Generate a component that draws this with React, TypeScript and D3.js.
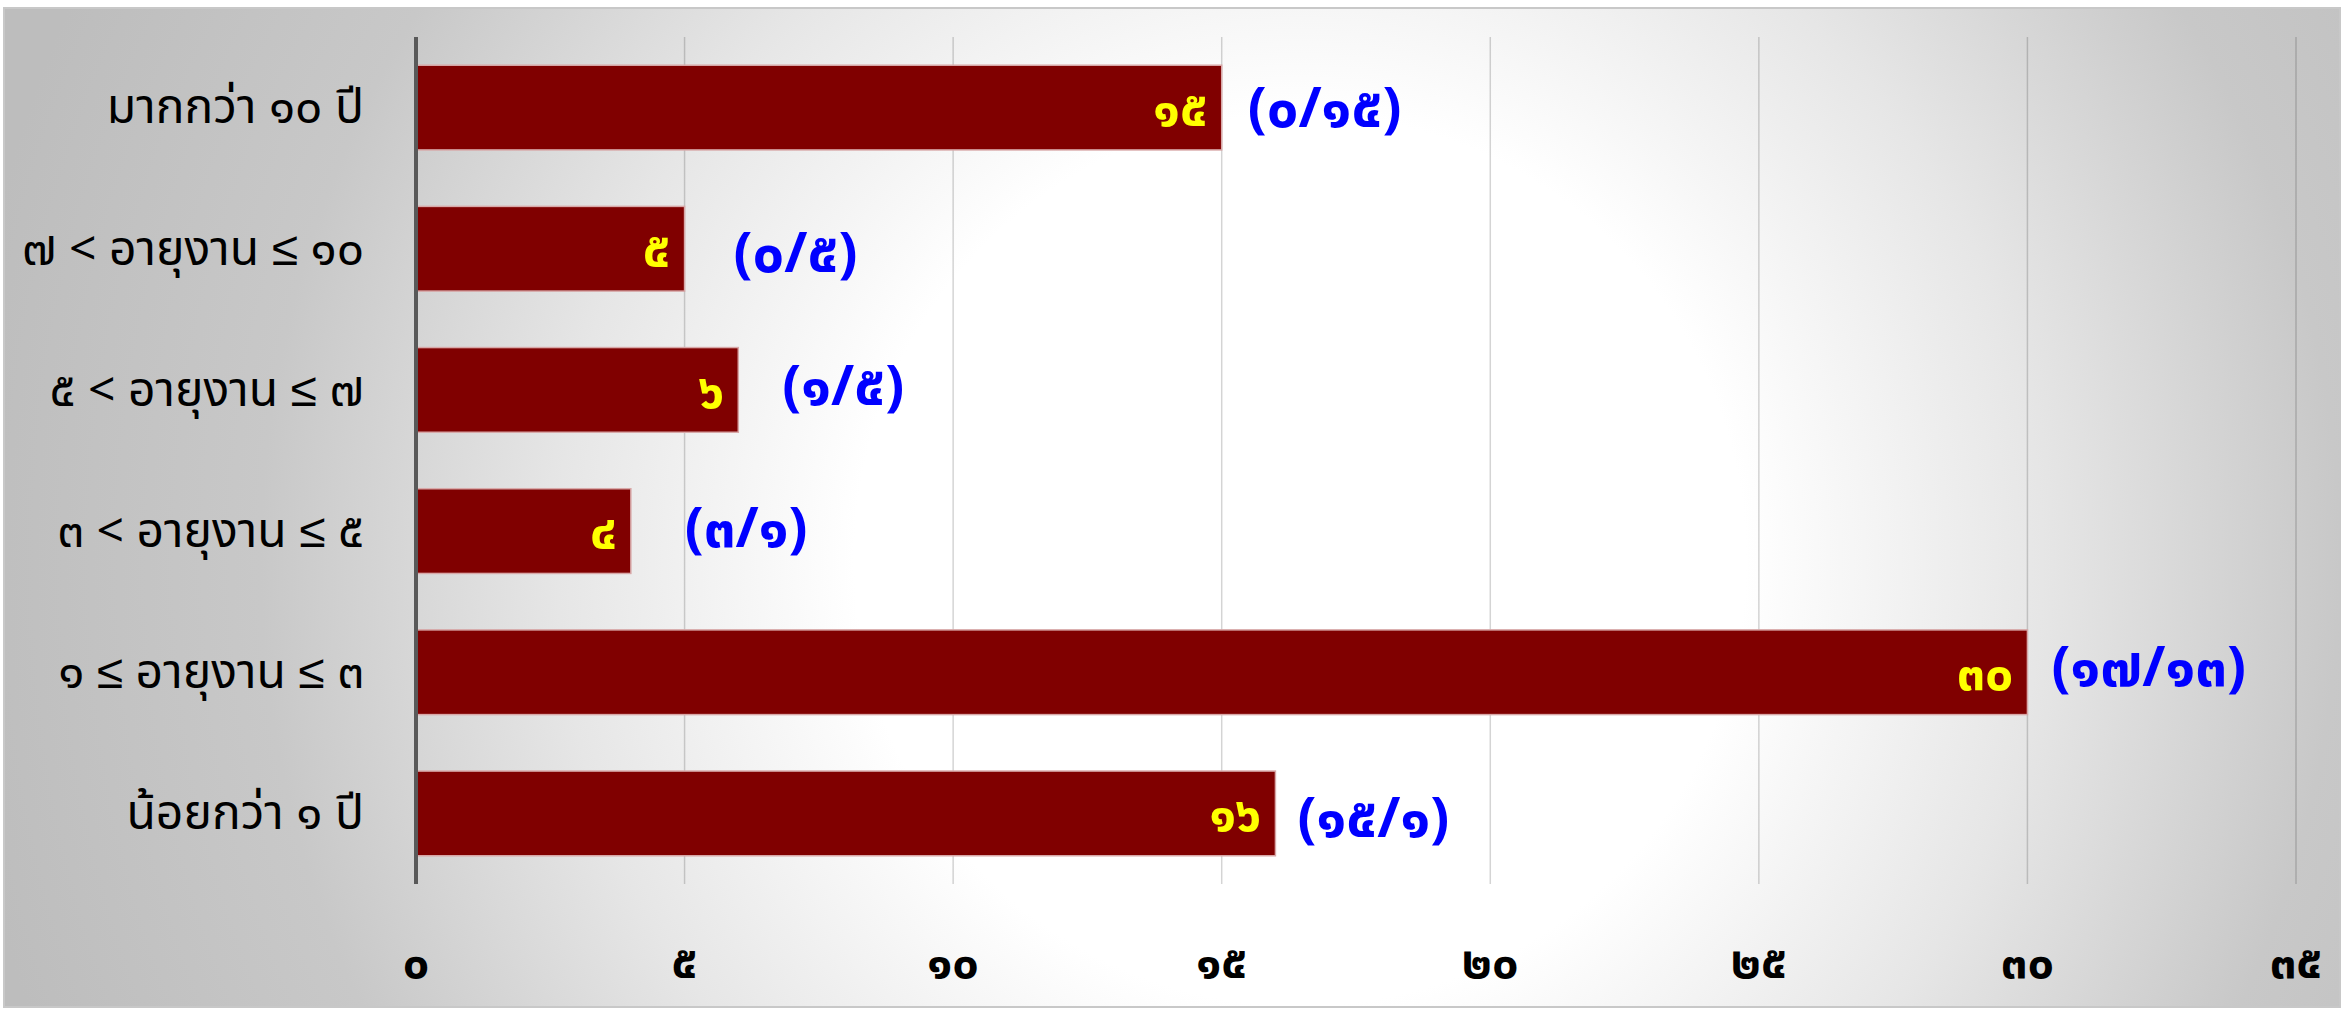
import React, { useRef, useEffect } from "react";
import * as d3 from "d3";

// categories (top to bottom), bar values and the blue (x/y) notes
const categories = [
  "มากกว่า ๑๐ ปี",
  "๗ < อายุงาน ≤ ๑๐",
  "๕ < อายุงาน ≤ ๗",
  "๓ < อายุงาน ≤ ๕",
  "๑ ≤ อายุงาน ≤ ๓",
  "น้อยกว่า ๑ ปี",
];
const values = [15, 5, 6, 4, 30, 16];
const valueLabels = ["๑๕", "๕", "๖", "๔", "๓๐", "๑๖"];
const notes = ["(๐/๑๕)", "(๐/๕)", "(๑/๕)", "(๓/๑)", "(๑๗/๑๓)", "(๑๕/๑)"];
const tickValues = [0, 5, 10, 15, 20, 25, 30, 35];
const tickLabels = ["๐", "๕", "๑๐", "๑๕", "๒๐", "๒๕", "๓๐", "๓๕"];

// hand-placed note nudges, as in the original sheet
const noteDx = [26, 49, 44, 54, 24, 22];
const noteDy = [0, 4, -5, -4, -6, 4];

const W = 2344;
const H = 1009;
const FONT = "'Noto Sans Thai', 'Noto Sans', Tahoma, sans-serif";

const App = () => {
  const svgRef = useRef(null);

  useEffect(() => {
    const svg = d3.select(svgRef.current);
    svg.selectAll("*").remove();

    const left = 416;
    const right = 2296;
    const top = 37;
    const bottom = 884;

    const x = d3.scaleLinear().domain([0, 35]).range([left, right]);
    const y = d3.scaleBand().domain(categories).range([top, bottom]).paddingInner(0.4).paddingOuter(0.2);

    // background gradient
    const defs = svg.append("defs");
    const grad = defs
      .append("radialGradient")
      .attr("id", "bg")
      .attr("gradientUnits", "userSpaceOnUse")
      .attr("cx", 1300)
      .attr("cy", 560)
      .attr("r", 1350);
    grad.append("stop").attr("offset", 0).attr("stop-color", "#ffffff");
    grad.append("stop").attr("offset", 0.33).attr("stop-color", "#ffffff");
    grad.append("stop").attr("offset", 0.55).attr("stop-color", "#e6e6e6");
    grad.append("stop").attr("offset", 0.77).attr("stop-color", "#c8c8c8");
    grad.append("stop").attr("offset", 1).attr("stop-color", "#bdbdbd");

    svg
      .append("rect")
      .attr("x", 4)
      .attr("y", 8)
      .attr("width", W - 8)
      .attr("height", H - 10)
      .attr("fill", "url(#bg)")
      .attr("stroke", "#c8c8c8")
      .attr("stroke-width", 2);

    // gridlines
    svg
      .append("g")
      .selectAll("line")
      .data(tickValues.slice(1))
      .join("line")
      .attr("x1", (d) => x(d))
      .attr("x2", (d) => x(d))
      .attr("y1", top)
      .attr("y2", bottom)
      .attr("stroke", "#000")
      .attr("stroke-opacity", 0.17)
      .attr("stroke-width", 1.5);

    // bars
    svg
      .append("g")
      .selectAll("rect")
      .data(values)
      .join("rect")
      .attr("x", x(0))
      .attr("y", (d, i) => y(categories[i]))
      .attr("width", (d) => x(d) - x(0))
      .attr("height", y.bandwidth())
      .attr("fill", "#800000")
      .attr("stroke", "#d8a8a8")
      .attr("stroke-width", 1.5);

    // axis line at zero
    svg
      .append("line")
      .attr("x1", x(0))
      .attr("x2", x(0))
      .attr("y1", top)
      .attr("y2", bottom)
      .attr("stroke", "#595959")
      .attr("stroke-width", 4);

    // category labels
    svg
      .append("g")
      .selectAll("text")
      .data(categories)
      .join("text")
      .attr("x", 364)
      .attr("y", (d) => y(d) + y.bandwidth() / 2)
      .attr("dy", "0.33em")
      .attr("text-anchor", "end")
      .style("font-family", FONT)
      .style("font-size", "48px")
      .style("fill", "#000")
      .text((d) => d);

    // x tick labels
    svg
      .append("g")
      .selectAll("text")
      .data(tickValues)
      .join("text")
      .attr("x", (d) => x(d))
      .attr("y", 962)
      .attr("dy", "0.35em")
      .attr("text-anchor", "middle")
      .style("font-family", FONT)
      .style("font-size", "47px")
      .style("font-weight", "bold")
      .style("fill", "#000")
      .text((d, i) => tickLabels[i]);

    // value labels inside bars
    svg
      .append("g")
      .selectAll("text")
      .data(values)
      .join("text")
      .attr("x", (d) => x(d) - 14)
      .attr("y", (d, i) => y(categories[i]) + y.bandwidth() / 2)
      .attr("dy", "0.36em")
      .attr("text-anchor", "end")
      .style("font-family", FONT)
      .style("font-size", "50px")
      .style("font-weight", "bold")
      .style("fill", "#ffff00")
      .text((d, i) => valueLabels[i]);

    // blue notes
    svg
      .append("g")
      .selectAll("text")
      .data(values)
      .join("text")
      .attr("x", (d, i) => x(d) + noteDx[i])
      .attr("y", (d, i) => y(categories[i]) + y.bandwidth() / 2 + noteDy[i])
      .attr("dy", "0.35em")
      .attr("text-anchor", "start")
      .style("font-family", FONT)
      .style("font-size", "56px")
      .style("font-weight", "bold")
      .style("fill", "#0000ff")
      .text((d, i) => notes[i]);
  }, []);

  return (
    <svg
      ref={svgRef}
      width={W}
      height={H}
      style={{ position: "absolute", left: 0, top: 0, background: "#fff" }}
    />
  );
};

export default App;
